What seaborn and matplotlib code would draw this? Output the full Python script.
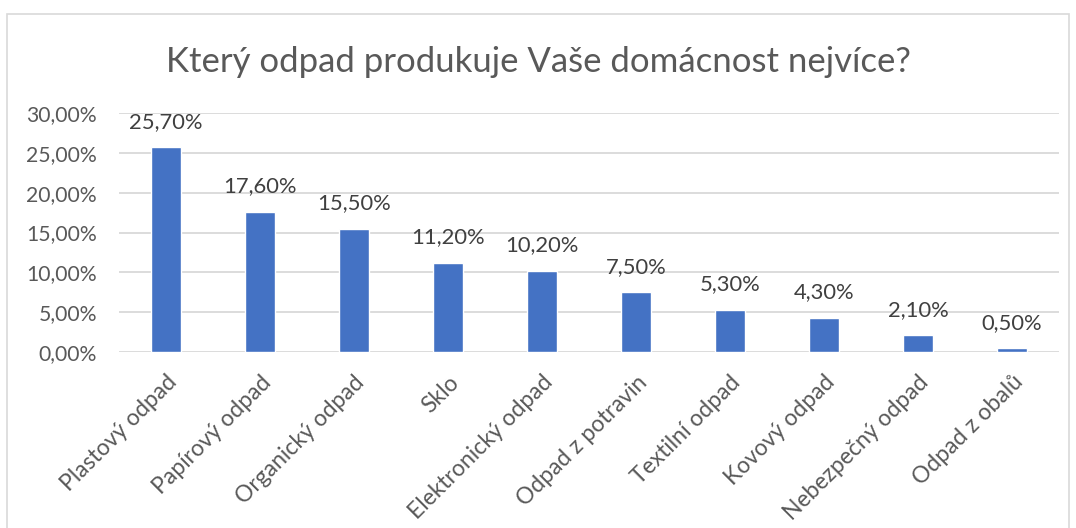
import matplotlib
matplotlib.use("Agg")
import matplotlib.pyplot as plt
import seaborn as sns
import pandas as pd
from matplotlib.patches import Rectangle
from matplotlib.ticker import FuncFormatter

kategorie = ["Plastový odpad", "Papírový odpad", "Organický odpad", "Sklo",
             "Elektronický odpad", "Odpad z potravin", "Textilní odpad",
             "Kovový odpad", "Nebezpečný odpad", "Odpad z obalů"]
podil = [25.7, 17.6, 15.5, 11.2, 10.2, 7.5, 5.3, 4.3, 2.1, 0.5]
y_ticks = [0, 5, 10, 15, 20, 25, 30]

df = pd.DataFrame({"kategorie": kategorie, "podil": podil})

sns.set_style("white")
plt.rcParams["font.family"] = ["Lato", "DejaVu Sans"]
sedy = "#595959"

fig = plt.figure(figsize=(10.76, 5.28), dpi=100)
fig.patches.append(Rectangle((7 / 1076, -0.1), 1062 / 1076, 1.1 - 14 / 528,
                             transform=fig.transFigure, fill=False,
                             edgecolor="#D9D9D9", linewidth=1.2))
ax = fig.add_axes([119 / 1076, 1 - 352 / 528, 940 / 1076, 239 / 528])

sns.barplot(data=df, x="kategorie", y="podil", color="#4472C4",
            width=0.32, saturation=1, ax=ax, zorder=3)

ax.set_ylim(0, 30)
ax.set_xlim(-0.5, len(kategorie) - 0.5)
ax.set_yticks(y_ticks)
ax.yaxis.set_major_formatter(FuncFormatter(lambda v, p: f"{v:.2f}%".replace(".", ",")))
ax.grid(axis="y", color="#D9D9D9", linewidth=1.3, zorder=0)
for s in ax.spines.values():
    s.set_visible(False)
ax.tick_params(axis="both", length=0, colors=sedy)
ax.tick_params(axis="y", pad=16, labelsize=15.2)
ax.set_xlabel("")
ax.set_ylabel("")

ax.set_xticks(range(len(kategorie)))
ax.set_xticklabels(kategorie, rotation=45, ha="right", rotation_mode="anchor")
ax.tick_params(axis="x", pad=14, labelsize=16.5)

ax.bar_label(ax.containers[0], labels=[f"{v:.2f}%".replace(".", ",") for v in podil],
             padding=11, color="#404040", fontsize=15.8)

fig.suptitle("Který odpad produkuje Vaše domácnost nejvíce?", y=1 - 62 / 528,
             va="center", fontsize=25, color=sedy)

fig.savefig("out.png", dpi=100)
